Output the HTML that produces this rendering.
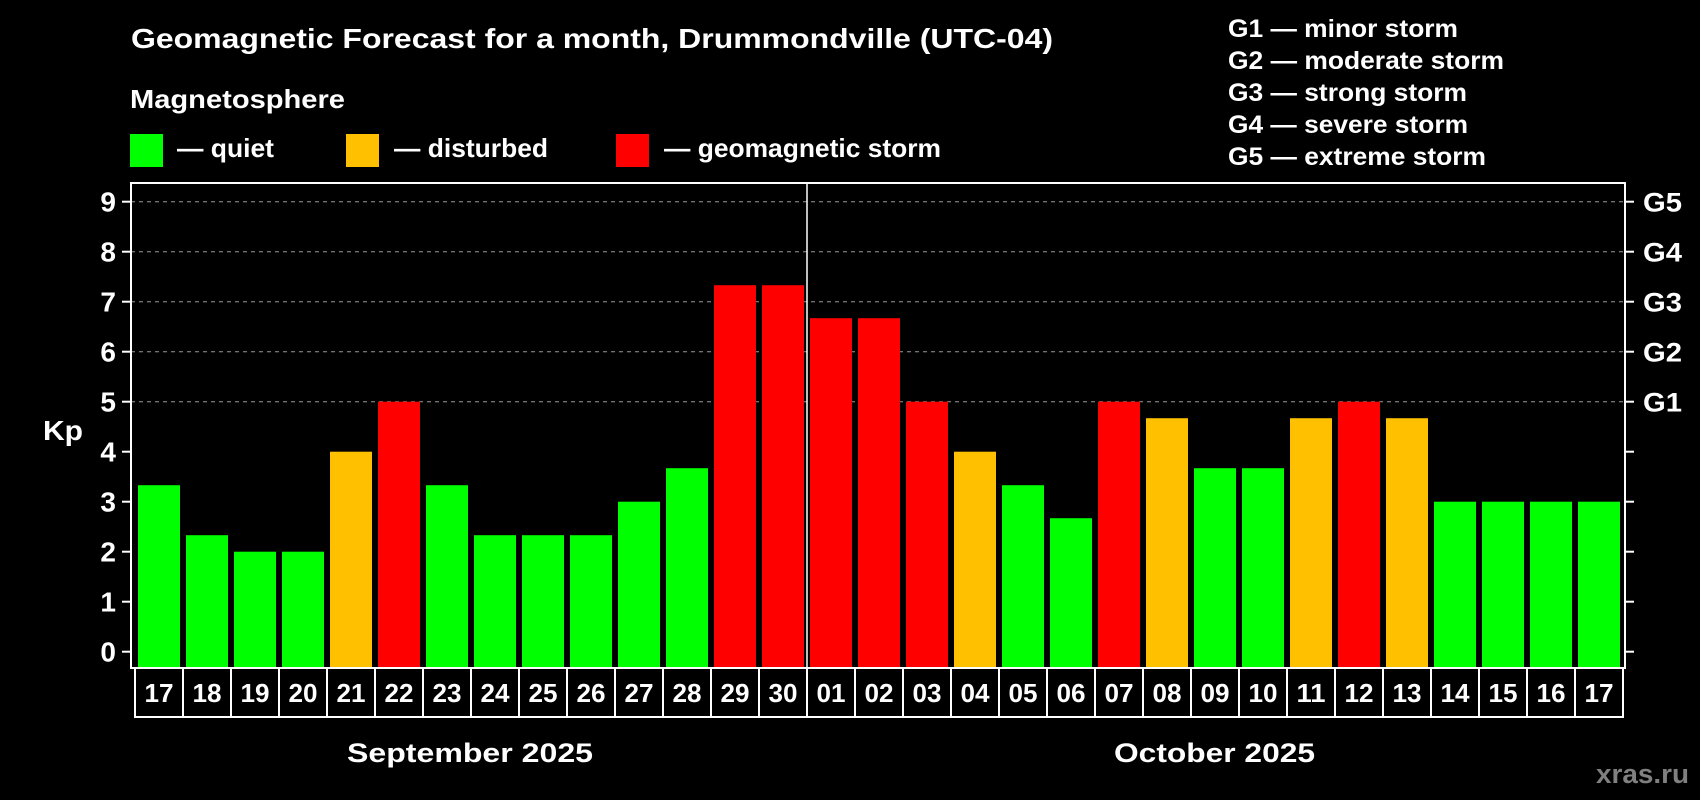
<!DOCTYPE html>
<html><head><meta charset="utf-8"><style>
html,body{margin:0;padding:0;background:#000;width:1700px;height:800px;overflow:hidden}
svg{display:block;font-family:"Liberation Sans",Arial,sans-serif;font-weight:bold}
</style></head><body>
<svg id="chart" width="1700" height="800" viewBox="0 0 1700 800">
<text x="131" y="48" fill="#fff" font-size="28" textLength="922" lengthAdjust="spacingAndGlyphs">Geomagnetic Forecast for a month, Drummondville (UTC-04)</text>
<text x="130" y="108" fill="#fff" font-size="26" textLength="215" lengthAdjust="spacingAndGlyphs">Magnetosphere</text>
<rect x="130" y="134" width="33" height="33" fill="#00ff00"/>
<text x="177" y="157" fill="#fff" font-size="26" textLength="97" lengthAdjust="spacingAndGlyphs">— quiet</text>
<rect x="346" y="134" width="33" height="33" fill="#ffc000"/>
<text x="394" y="157" fill="#fff" font-size="26" textLength="154" lengthAdjust="spacingAndGlyphs">— disturbed</text>
<rect x="616" y="134" width="33" height="33" fill="#ff0000"/>
<text x="664" y="157" fill="#fff" font-size="26" textLength="277" lengthAdjust="spacingAndGlyphs">— geomagnetic storm</text>
<g fill="#fff" font-size="25" lengthAdjust="spacingAndGlyphs">
<text x="1228" y="37" textLength="230" lengthAdjust="spacingAndGlyphs">G1 — minor storm</text>
<text x="1228" y="69" textLength="276" lengthAdjust="spacingAndGlyphs">G2 — moderate storm</text>
<text x="1228" y="101" textLength="239" lengthAdjust="spacingAndGlyphs">G3 — strong storm</text>
<text x="1228" y="133" textLength="240" lengthAdjust="spacingAndGlyphs">G4 — severe storm</text>
<text x="1228" y="165" textLength="258" lengthAdjust="spacingAndGlyphs">G5 — extreme storm</text>
</g>
<text x="43" y="440" fill="#fff" font-size="28" textLength="40" lengthAdjust="spacingAndGlyphs">Kp</text>
<g id="grid"></g><g id="bars"></g><g id="axes"></g><g id="dates"></g>
<text x="347" y="762" fill="#fff" font-size="27" textLength="246" lengthAdjust="spacingAndGlyphs">September 2025</text>
<text x="1114" y="762" fill="#fff" font-size="27" textLength="201" lengthAdjust="spacingAndGlyphs">October 2025</text>
<text x="1596" y="783" fill="#808080" font-size="27" textLength="93" lengthAdjust="spacingAndGlyphs">xras.ru</text>
</svg>
<script>
const dates = ["17","18","19","20","21","22","23","24","25","26","27","28","29","30","01","02","03","04","05","06","07","08","09","10","11","12","13","14","15","16","17"];
const kpValues = [3.33,2.33,2,2,4,5,3.33,2.33,2.33,2.33,3,3.67,7.33,7.33,6.67,6.67,5,4,3.33,2.67,5,4.67,3.67,3.67,4.67,5,4.67,3,3,3,3];
const yTicks = [0,1,2,3,4,5,6,7,8,9];
const gLabels = ["G1","G2","G3","G4","G5"];
const NS="http://www.w3.org/2000/svg";
const L=131,R=1625,T=183,B=668;
const y=v=>651.7-v*50;
const x=i=>138+48*i;
function mk(t,a,p){const e=document.createElementNS(NS,t);for(const k in a)e.setAttribute(k,a[k]);p.appendChild(e);return e;}
const grid=document.getElementById('grid'),bars=document.getElementById('bars'),axes=document.getElementById('axes'),dg=document.getElementById('dates');
yTicks.forEach(v=>{
 if(v>=5){const g=mk('line',{x1:L,x2:R,y1:y(v),y2:y(v),stroke:'#999','stroke-dasharray':'4,4','stroke-width':1},grid);
 
 }
 const tl=mk('line',{x1:L-9,x2:L,y1:y(v),y2:y(v),stroke:'#fff','stroke-width':2},axes);
 
 
 const tr=mk('line',{x1:R,x2:R+9,y1:y(v),y2:y(v),stroke:'#fff','stroke-width':2},axes);
 
 
 const t=mk('text',{x:116,y:y(v)+10,fill:'#fff','font-size':28,'text-anchor':'end'},axes);t.textContent=v;
 
 
 if(v>=5){const g=mk('text',{x:1643,y:y(v)+10,fill:'#fff','font-size':27,textLength:39,lengthAdjust:'spacingAndGlyphs'},axes);g.textContent=gLabels[v-5];
 
 }
});
kpValues.forEach((v,i)=>{
 const c=v>=5?'#ff0000':(v>=4?'#ffc000':'#00ff00');
 const b=mk('rect',{x:x(i),y:y(v),width:42,height:B-y(v),fill:c},bars);
 
 
});
const fr=mk('rect',{x:L,y:T,width:R-L,height:B-T,fill:'none',stroke:'#fff','stroke-width':2},axes);


const sep=mk('line',{x1:807,x2:807,y1:T,y2:B,stroke:'#fff','stroke-width':1.5},axes);


dates.forEach((d,i)=>{
 const c=mk('rect',{x:135+48*i,y:668,width:48,height:49,fill:'none',stroke:'#fff','stroke-width':2},dg);
 
 
 const t=mk('text',{x:144.5+48*i,y:702,fill:'#fff','font-size':26,textLength:29,lengthAdjust:'spacingAndGlyphs'},dg);t.textContent=d;
 
 
});
</script>
</body></html>
